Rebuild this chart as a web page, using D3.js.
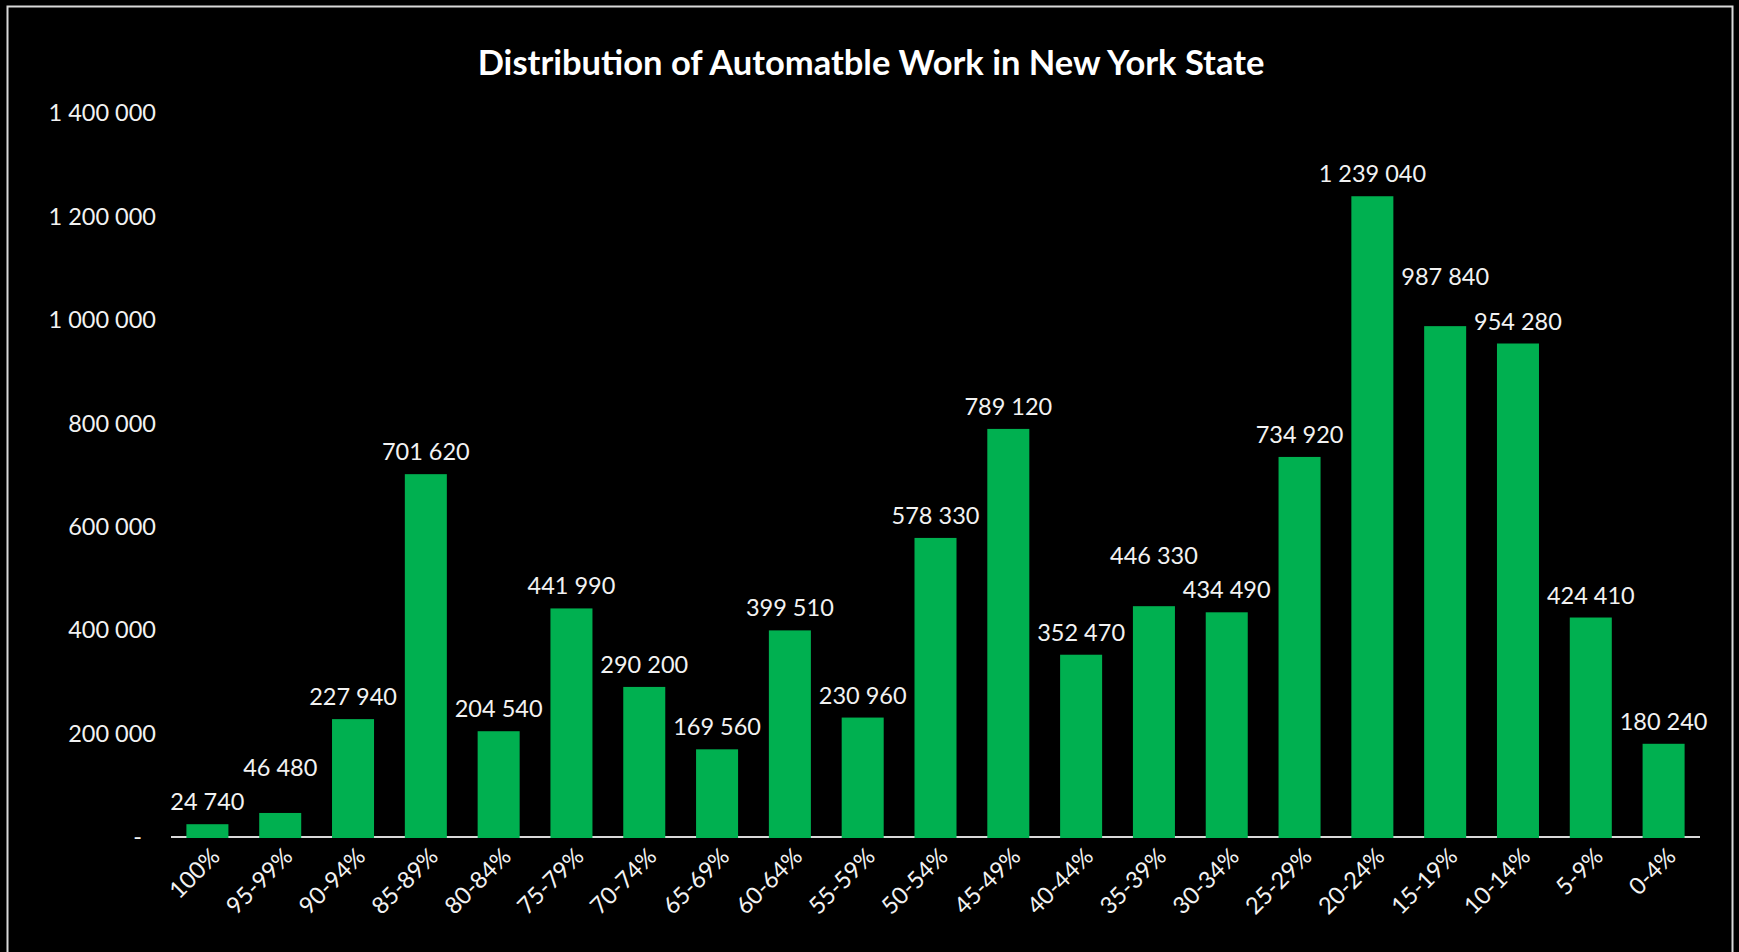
<!DOCTYPE html>
<html>
<head>
<meta charset="utf-8">
<script src="https://cdn.jsdelivr.net/npm/d3@7"></script>
<style>
  html, body { margin: 0; padding: 0; background: #000; }
  svg text { font-family: Lato, "Open Sans", sans-serif; fill: #f2f2f2; }
</style>
</head>
<body>
<div id="chart"></div>
<script>
// data
const categories = ["100%", "95-99%", "90-94%", "85-89%", "80-84%", "75-79%", "70-74%",
  "65-69%", "60-64%", "55-59%", "50-54%", "45-49%", "40-44%", "35-39%", "30-34%",
  "25-29%", "20-24%", "15-19%", "10-14%", "5-9%", "0-4%"];
const workers = [24740, 46480, 227940, 701620, 204540, 441990, 290200,
  169560, 399510, 230960, 578330, 789120, 352470, 446330, 434490,
  734920, 1239040, 987840, 954280, 424410, 180240];
const yTicks = [0, 200000, 400000, 600000, 800000, 1000000, 1200000, 1400000];
// a few data labels sit higher than the rest in the original (px)
const labelLift = { "95-99%": 23, "35-39%": 28, "15-19%": 27 };

const width = 1739, height = 952;
const margin = { top: 113, right: 39, bottom: 115, left: 171 };

const svg = d3.select("#chart")
  .append("svg")
  .attr("width", width)
  .attr("height", height);

svg.append("rect")
  .attr("width", width).attr("height", height)
  .attr("fill", "#000");

// chart area border
svg.append("rect")
  .attr("x", 7.5).attr("y", 6.5)
  .attr("width", 1725).attr("height", 960)
  .attr("fill", "none")
  .attr("stroke", "#d9d9d9")
  .attr("stroke-width", 2);

svg.append("text")
  .attr("x", 871).attr("y", 75)
  .attr("text-anchor", "middle")
  .attr("font-size", "34.5px")
  .attr("font-weight", "bold")
  .style("fill", "#fff")
  .text("Distribution of Automatble Work in New York State");

const xScale = d3.scaleBand()
  .domain(categories)
  .range([margin.left, width - margin.right])
  .paddingInner(0.423)
  .paddingOuter(0.2115);

const yScale = d3.scaleLinear()
  .domain([0, 1400000])
  .range([height - margin.bottom, margin.top]);

const fmt = d => d === 0 ? "-" : d3.format(",")(d).replace(/,/g, " ");

// y axis labels only (no line, no ticks)
svg.append("g")
  .selectAll("text")
  .data(yTicks)
  .join("text")
  .attr("x", d => d === 0 ? 142 : 156)
  .attr("y", d => yScale(d))
  .attr("dy", "0.35em")
  .attr("text-anchor", "end")
  .attr("font-size", "23.5px")
  .text(fmt);

// x axis line
svg.append("line")
  .attr("x1", margin.left).attr("x2", width - margin.right)
  .attr("y1", yScale(0)).attr("y2", yScale(0))
  .attr("stroke", "#d9d9d9")
  .attr("stroke-width", 2);

svg.append("g")
  .selectAll("rect")
  .data(workers)
  .join("rect")
  .attr("x", (d, i) => xScale(categories[i]))
  .attr("y", d => yScale(d))
  .attr("width", xScale.bandwidth())
  .attr("height", d => yScale(0) - yScale(d) + 1)
  .attr("fill", "#00b050");

// data labels
svg.append("g")
  .selectAll("text")
  .data(workers)
  .join("text")
  .attr("x", (d, i) => xScale(categories[i]) + xScale.bandwidth() / 2)
  .attr("y", (d, i) => yScale(d) - 14 - (labelLift[categories[i]] || 0))
  .attr("text-anchor", "middle")
  .attr("font-size", "23.5px")
  .text(fmt);

// rotated category labels
svg.append("g")
  .selectAll("text")
  .data(categories)
  .join("text")
  .attr("transform", d => `translate(${xScale(d) + xScale.bandwidth() / 2 + 8},${yScale(0) + 15}) rotate(-45)`)
  .attr("dy", "0.35em")
  .attr("text-anchor", "end")
  .attr("font-size", "23.5px")
  .text(d => d);
</script>
</body>
</html>
